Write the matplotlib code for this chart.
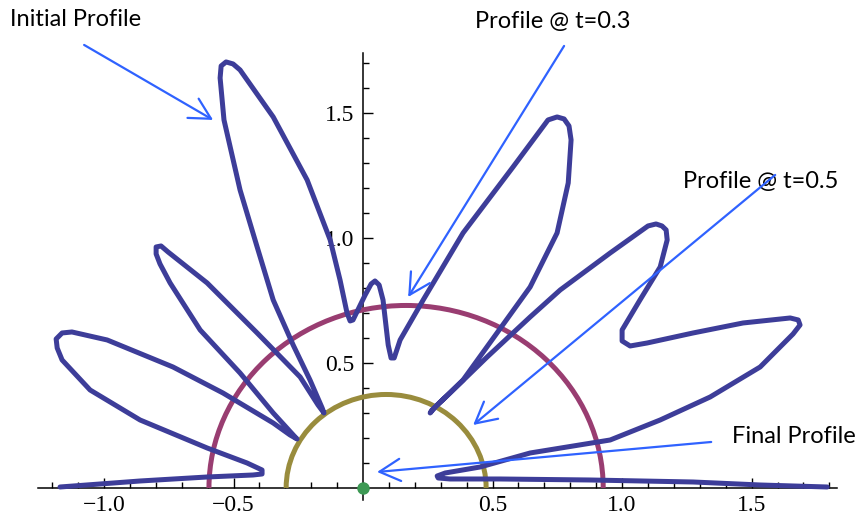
#!/usr/bin/env python
'''Polar flower profile relaxing towards a circle, with annotated profiles'''

import matplotlib
matplotlib.use('Agg')
from matplotlib.pyplot import figure
from matplotlib.patches import Arc
from matplotlib.ticker import FixedLocator, MultipleLocator

# initial profile, traced from theta=0 (right) to theta=pi (left)
profile_x = [1.792, 1.533, 1.274, 0.876, 0.529, 0.336, 0.290, 0.286, 0.317, 0.452,
             0.645, 0.954, 1.147, 1.340, 1.533, 1.660, 1.687, 1.680, 1.649, 1.467,
             1.274, 1.097, 1.031, 1.000, 1.000, 1.069, 1.147, 1.174, 1.170, 1.154,
             1.131, 1.100, 0.954, 0.761, 0.645, 0.479, 0.336, 0.266, 0.259, 0.282,
             0.386, 0.517, 0.645, 0.749, 0.792, 0.803, 0.795, 0.776, 0.749, 0.714,
             0.579, 0.386, 0.232, 0.143, 0.120, 0.108, 0.097, 0.077, 0.062, 0.046,
             0.031, 0.008, -0.039, -0.050, -0.062, -0.089, -0.127, -0.216, -0.347, -0.475,
             -0.502, -0.529, -0.548, -0.552, -0.537, -0.475, -0.409, -0.347, -0.270, -0.205,
             -0.158, -0.151, -0.174, -0.243, -0.409, -0.602, -0.753, -0.780, -0.799, -0.799,
             -0.784, -0.745, -0.629, -0.475, -0.347, -0.266, -0.255, -0.282, -0.347, -0.541,
             -0.734, -0.988, -1.124, -1.162, -1.185, -1.181, -1.162, -1.054, -0.861, -0.602,
             -0.448, -0.390, -0.390, -0.425, -0.602, -0.861, -1.170]
profile_y = [0.004, 0.012, 0.024, 0.032, 0.036, 0.036, 0.040, 0.048, 0.060, 0.084,
             0.140, 0.192, 0.272, 0.364, 0.484, 0.616, 0.652, 0.672, 0.680, 0.660,
             0.620, 0.580, 0.568, 0.588, 0.632, 0.752, 0.884, 0.992, 1.032, 1.048,
             1.056, 1.048, 0.940, 0.792, 0.684, 0.524, 0.380, 0.312, 0.300, 0.328,
             0.432, 0.620, 0.804, 1.020, 1.220, 1.392, 1.448, 1.476, 1.484, 1.472,
             1.284, 1.020, 0.752, 0.592, 0.520, 0.520, 0.572, 0.752, 0.812, 0.828,
             0.816, 0.772, 0.672, 0.668, 0.700, 0.832, 0.992, 1.232, 1.484, 1.672,
             1.696, 1.704, 1.688, 1.640, 1.472, 1.192, 0.964, 0.752, 0.572, 0.432,
             0.320, 0.300, 0.332, 0.444, 0.620, 0.820, 0.944, 0.968, 0.964, 0.936,
             0.896, 0.820, 0.632, 0.460, 0.300, 0.208, 0.196, 0.212, 0.260, 0.380,
             0.484, 0.592, 0.624, 0.620, 0.596, 0.560, 0.512, 0.392, 0.272, 0.160,
             0.100, 0.072, 0.056, 0.052, 0.044, 0.028, 0.004]

# later profiles are near-semicircles: (centre x, half width, half height)
t03_arc = (0.166, 0.761, 0.730)
t05_arc = (0.089, 0.386, 0.374)
final_point = (0.0, 0.0)

x_majors = [-1.0, -0.5, 0.5, 1.0, 1.5]
y_majors = [0.5, 1.0, 1.5]

# label text, label anchor (left, middle), arrow tail, arrow head
labels = ['Initial Profile', 'Profile @ t=0.3', 'Profile @ t=0.5', 'Final Profile']
label_xy = [(-1.363, 1.872), (0.432, 1.864), (1.236, 1.224), (1.425, 0.204)]
tail_xy = [(-1.077, 1.772), (0.776, 1.768), (1.591, 1.252), (1.344, 0.184)]
head_xy = [(-0.579, 1.472), (0.174, 0.764), (0.425, 0.252), (0.054, 0.064)]

blue = '#3d3d99'
red = '#993d71'
gold = '#998c3d'
green = '#3d9954'
arrow_blue = '#2f62ff'

fig = figure(figsize=(8.62, 5.18), dpi=100)
ax = fig.add_axes([0.0441, 0.0338, 0.927, 0.864])
ax.set_xlim(-1.255, 1.83)
ax.set_ylim(-0.05, 1.74)

for side in ['top', 'right']:
    ax.spines[side].set_visible(False)
ax.spines['left'].set_position(('data', 0))
ax.spines['bottom'].set_position(('data', 0))
for side in ['left', 'bottom']:
    ax.spines[side].set_linewidth(1.1)

ax.xaxis.set_major_locator(FixedLocator(x_majors))
ax.xaxis.set_minor_locator(MultipleLocator(0.1))
ax.yaxis.set_major_locator(FixedLocator(y_majors))
ax.yaxis.set_minor_locator(MultipleLocator(0.1))
ax.tick_params(which='both', direction='in', width=1.0, labelsize=17)
ax.tick_params(which='major', length=7)
ax.tick_params(which='minor', length=4)
ax.tick_params(axis='x', pad=5)
ax.tick_params(axis='y', pad=6)
ax.set_xticklabels([f'{v:.1f}'.replace('-', '\u2212') for v in x_majors])
ax.set_yticklabels([f'{v:.1f}' for v in y_majors])
for lab in ax.get_xticklabels() + ax.get_yticklabels():
    lab.set_family('Liberation Serif')

for (cx, rx, ry), colour in [(t03_arc, red), (t05_arc, gold)]:
    ax.add_patch(Arc((cx, 0), 2 * rx, 2 * ry, theta1=0, theta2=180,
                     color=colour, lw=3.6, zorder=3, clip_on=False))

ax.plot(profile_x, profile_y, color=blue, lw=3.6, solid_joinstyle='round',
        solid_capstyle='round', zorder=4, clip_on=False)

ax.plot([final_point[0]], [final_point[1]], 'o', color=green, ms=8, zorder=6, clip_on=False)

for text, lxy, txy, hxy in zip(labels, label_xy, tail_xy, head_xy):
    ax.text(lxy[0], lxy[1], text, ha='left', va='center', fontsize=17,
            family=['Lato', 'DejaVu Sans'], clip_on=False)
    ax.annotate('', xy=hxy, xytext=txy, annotation_clip=False,
                arrowprops=dict(arrowstyle='->,head_length=0.75,head_width=0.4',
                                color=arrow_blue, lw=1.6, mutation_scale=20,
                                shrinkA=0, shrinkB=0), zorder=7)

fig.savefig('out.png', dpi=100)
